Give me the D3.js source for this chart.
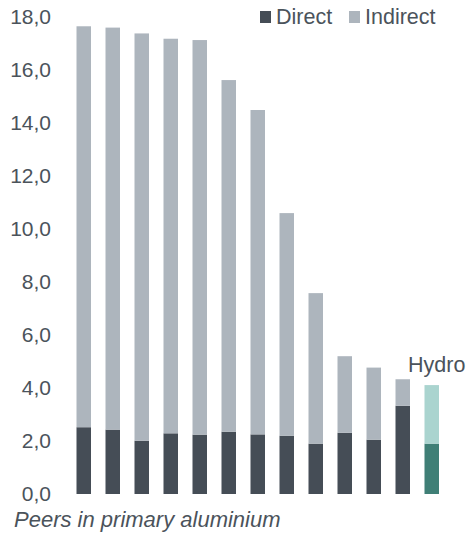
<!DOCTYPE html>
<html>
<head>
<meta charset="utf-8">
<script src="https://cdn.jsdelivr.net/npm/d3@7"></script>
<style>
  html, body { margin: 0; padding: 0; background: #fff; }
  svg { display: block; }
  text { font-family: "Liberation Sans", Arial, sans-serif; fill: #4b535b; }
</style>
</head>
<body>
<svg id="chart" width="467" height="533"></svg>
<script>
// Emissions per producer (t CO2e / t aluminium), split into direct and indirect
const categories = ["P1", "P2", "P3", "P4", "P5", "P6", "P7", "P8", "P9", "P10", "P11", "P12", "Hydro"];
const direct   = [2.52, 2.43, 2.01, 2.29, 2.24, 2.35, 2.25, 2.20, 1.90, 2.31, 2.05, 3.33, 1.90];
const indirect = [15.13, 15.17, 15.37, 14.89, 14.89, 13.27, 12.24, 8.40, 5.68, 2.89, 2.72, 1.00, 2.21];
const yTicks = [0, 2, 4, 6, 8, 10, 12, 14, 16, 18];
const seriesNames = ["Direct", "Indirect"];

const colors = {
  direct: "#454d56",
  indirect: "#adb5bd",
  hydroDirect: "#3f7f76",
  hydroIndirect: "#aad4cf"
};

const FONT = 21.5;
const svg = d3.select("#chart");

const x = d3.scaleBand()
  .domain(categories)
  .range([62, 453.5])
  .paddingInner(0.5)
  .paddingOuter(0.5);

const y = d3.scaleLinear()
  .domain([0, 18])
  .range([494, 17]);

const fmt = v => d3.format(".1f")(v).replace(".", ",");

// Y axis: labels only
const yAxis = d3.axisLeft(y)
  .tickValues(yTicks)
  .tickFormat(fmt)
  .tickSize(0)
  .tickPadding(0);

svg.append("g")
  .attr("transform", "translate(51,0)")
  .call(yAxis)
  .call(g => g.select(".domain").remove())
  .call(g => g.selectAll("text")
    .attr("font-size", 21)
    .attr("font-family", "Liberation Sans, Arial, sans-serif")
    .attr("fill", "#4b535b"));

const rows = categories.map((c, i) => ({ c, d: direct[i], ind: indirect[i], hydro: c === "Hydro" }));

const bars = svg.append("g");

// Direct segments
bars.selectAll("rect.direct")
  .data(rows)
  .join("rect")
  .attr("class", "direct")
  .attr("x", r => x(r.c))
  .attr("width", x.bandwidth())
  .attr("y", r => y(r.d))
  .attr("height", r => y(0) - y(r.d))
  .attr("fill", r => r.hydro ? colors.hydroDirect : colors.direct);

// Indirect segments stacked on top
bars.selectAll("rect.indirect")
  .data(rows)
  .join("rect")
  .attr("class", "indirect")
  .attr("x", r => x(r.c))
  .attr("width", x.bandwidth())
  .attr("y", r => y(r.d + r.ind))
  .attr("height", r => y(r.d) - y(r.d + r.ind))
  .attr("fill", r => r.hydro ? colors.hydroIndirect : colors.indirect);

// Hydro label above its bar
const hydroRow = rows[rows.length - 1];
svg.append("text")
  .attr("x", x(hydroRow.c) + x.bandwidth() / 2 + 5)
  .attr("y", y(hydroRow.d + hydroRow.ind) - 13)
  .attr("text-anchor", "middle")
  .attr("font-size", FONT)
  .text("Hydro");

// Legend
const legend = svg.append("g").attr("transform", "translate(260,0)");
const legendX = [0, 89];
const legendColors = [colors.direct, colors.indirect];
seriesNames.forEach((name, i) => {
  const g = legend.append("g").attr("transform", `translate(${legendX[i]},0)`);
  g.append("rect")
    .attr("x", 0).attr("y", 11)
    .attr("width", 11).attr("height", 12)
    .attr("fill", legendColors[i]);
  g.append("text")
    .attr("x", 16).attr("y", 24)
    .attr("font-size", FONT)
    .text(name);
});

// Axis caption
svg.append("text")
  .attr("x", 14)
  .attr("y", 527)
  .attr("font-size", 22)
  .attr("font-style", "italic")
  .text("Peers in primary aluminium");
</script>
</body>
</html>
